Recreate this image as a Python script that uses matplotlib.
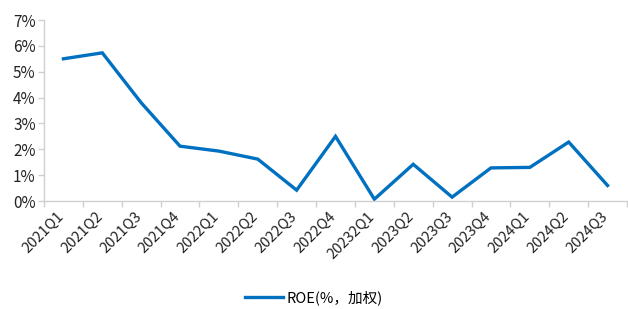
import matplotlib
matplotlib.use("Agg")
import matplotlib.pyplot as plt
import matplotlib.transforms as mtransforms
from matplotlib.ticker import FuncFormatter

plt.rcParams['font.family'] = ['Noto Sans CJK SC', 'DejaVu Sans']

quarters = ["2021Q1", "2021Q2", "2021Q3", "2021Q4", "2022Q1", "2022Q2", "2022Q3",
            "2022Q4", "20232Q1", "2023Q2", "2023Q3", "2023Q4", "2024Q1", "2024Q2", "2024Q3"]
roe = [5.50, 5.73, 3.80, 2.12, 1.93, 1.62, 0.42, 2.50, 0.07, 1.42, 0.15, 1.28, 1.30, 2.28, 0.60]

line_color = "#0070C0"
axis_color = "#D0D0D0"

fig = plt.figure(figsize=(6.28, 3.09), dpi=100)
ax = fig.add_axes([44 / 628, 1 - 201 / 309, 583 / 628, 181 / 309])

x = list(range(len(quarters)))
ax.plot(x, roe, color=line_color, linewidth=2.4, solid_joinstyle='miter',
        label="ROE(%，加权)")

ax.set_xlim(-0.5, len(quarters) - 0.5)
ax.set_ylim(0, 7)
ax.set_yticks(range(0, 8))
ax.yaxis.set_major_formatter(FuncFormatter(lambda v, _: f"{v:.0f}%"))

# category boundaries as tick marks, labels centred on categories
ax.set_xticks([i - 0.5 for i in range(len(quarters) + 1)])
ax.set_xticklabels([])
ax.set_xticks(x, minor=True)
ax.set_xticklabels(quarters, minor=True, rotation=45, ha='right',
                   rotation_mode='anchor', fontsize=10.5, color="#222222")
ax.tick_params(axis='x', which='minor', length=0, pad=6)
ax.tick_params(axis='x', which='major', length=4, color=axis_color, width=1)
ax.tick_params(axis='y', length=4, color=axis_color, width=1, labelsize=11,
               labelcolor="#222222", pad=2)

# nudge rotated labels a bit left, like the original
shift = mtransforms.ScaledTranslation(-7 / 100, 0, fig.dpi_scale_trans)
for lbl in ax.get_xticklabels(minor=True):
    lbl.set_transform(lbl.get_transform() + shift)

for side in ["top", "right"]:
    ax.spines[side].set_visible(False)
for side in ["left", "bottom"]:
    ax.spines[side].set_color(axis_color)
    ax.spines[side].set_linewidth(1)

fig.legend(loc="center", bbox_to_anchor=(0.5, 1 - 298 / 309), frameon=False,
           fontsize=10.5, handlelength=2.6, handletextpad=0.2)

fig.savefig("out.png", dpi=100)
